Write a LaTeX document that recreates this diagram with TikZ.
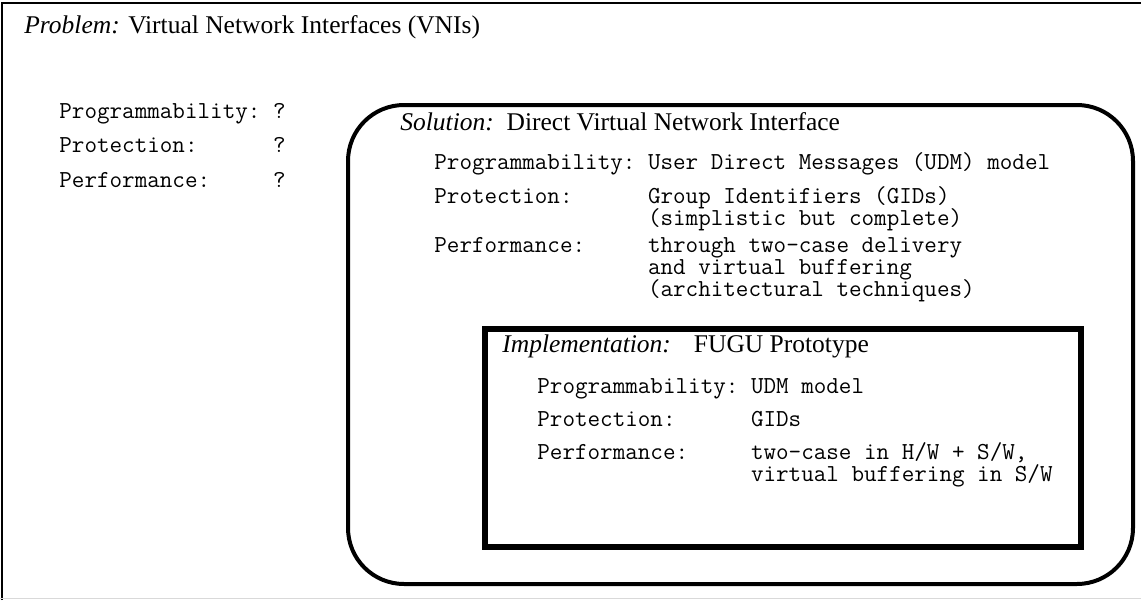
\documentclass[tikz,border=0pt]{standalone}
\usepackage{fontspec}
\setmainfont{Liberation Serif}
\usepackage{tikz}

% label column of the field lists, 17 characters wide
\newcommand{\fldname}[1]{\makebox[17\fontcharwd\font`M][l]{#1}}

\begin{document}
\begin{tikzpicture}[x=0.5pt, y=-0.5pt,
  ttl/.style={font=\fontsize{12.75}{15}\selectfont, anchor=base west, inner sep=0pt},
  fld/.style={font=\ttfamily\fontsize{12.2}{13}\selectfont, anchor=base west, inner sep=0pt}]

\useasboundingbox (0,0) rectangle (1141,600);

% cornice esterna
\draw[line width=1pt] (2,600) -- (2,2.5) -- (1141,2.5);
\draw[black!15, line width=0.8pt] (0,598.5) -- (1141,598.5);

% problema
\node[ttl] (probtitle) at (24,33) {\textit{Problem:} Virtual Network Interfaces (VNIs)};
\node[fld] (probprog) at (59,118) {\fldname{Programmability:}?};
\node[fld] (probprot) at (59,152) {\fldname{Protection:}?};
\node[fld] (probperf) at (59,187) {\fldname{Performance:}?};

% soluzione
\draw[line width=2pt, rounded corners=28pt] (348,105) rectangle (1133,584);
\node[ttl] (soltitle) at (400,130) {\textit{Solution:}\ \ Direct Virtual Network Interface};
\node[fld] (solprog) at (434,169) {\fldname{Programmability:}User Direct Messages (UDM) model};
\node[fld] (solprot) at (434,203.5) {\fldname{Protection:}Group Identifiers (GIDs)};
\node[fld] (solprotb) at (434,225.5) {\fldname{}(simplistic but complete)};
\node[fld] (solperf) at (434,252.5) {\fldname{Performance:}through two-case delivery};
\node[fld] (solperfb) at (434,274.5) {\fldname{}and virtual buffering};
\node[fld] (solperfc) at (434,296.5) {\fldname{}(architectural techniques)};

% implementazione
\draw[line width=3pt] (485,329) rectangle (1081,547);
\node[ttl] (impltitle) at (502,352) {\textit{Implementation:}\hspace{11.5pt}FUGU Prototype};
\node[fld] (implprog) at (537,393) {\fldname{Programmability:}UDM model};
\node[fld] (implprot) at (537,426) {\fldname{Protection:}GIDs};
\node[fld] (implperf) at (537,459) {\fldname{Performance:}two-case in H/W + S/W,};
\node[fld] (implperfb) at (537,481) {\fldname{}virtual buffering in S/W};

\end{tikzpicture}
\end{document}
